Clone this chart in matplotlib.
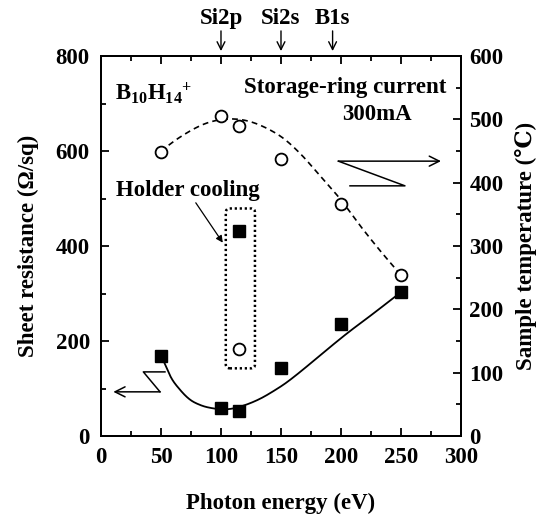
import numpy as np
import matplotlib
matplotlib.use("Agg")
import matplotlib.pyplot as plt
from matplotlib.patches import FancyBboxPatch
from matplotlib.ticker import MultipleLocator

plt.rcParams["font.family"] = ["Liberation Serif", "DejaVu Serif"]
plt.rcParams["font.weight"] = "bold"
plt.rcParams["axes.labelweight"] = "bold"
plt.rcParams["mathtext.fontset"] = "custom"
plt.rcParams["mathtext.rm"] = "Liberation Serif:bold"
plt.rcParams["mathtext.it"] = "Liberation Serif:bold"
plt.rcParams["mathtext.bf"] = "Liberation Serif:bold"

# measured points
energy = [50, 100, 115, 150, 200, 250]
sheet_res = [168, 58, 52, 144, 235, 303]
temperature = [449, 506, 490, 438, 367, 254]

# holder-cooling points (115 eV)
cooled_energy = [115]
cooled_res = [432]
cooled_temp = [137]

# guide curves
res_curve_x = [50, 53, 58, 66, 74, 83, 94, 101, 110, 121, 133, 144, 152, 166, 177, 205, 227, 250]
res_curve_y = [170, 153, 125, 97, 77, 65, 58, 56, 58, 66, 79, 95, 108, 135, 158, 216, 258, 303]
temp_curve_x = [50, 55, 71, 88, 102, 121, 138, 152, 166, 182, 199, 216, 232, 250]
temp_curve_y = [449, 457, 478, 494, 500, 498, 486, 470, 446, 412, 375, 332, 294, 254]

# absorption edges marked on top
edge_names = ["Si2p", "Si2s", "B1s"]
edge_energy = [100, 150, 193]

FS = 16.5


def hermite(xs, ys, n=400):
    # piecewise cubic through the read-off points
    x = np.asarray(xs, float)
    y = np.asarray(ys, float)
    d = np.diff(y) / np.diff(x)
    m = np.empty_like(y)
    m[0], m[-1] = d[0], d[-1]
    h = np.diff(x)
    m[1:-1] = (d[1:] * h[:-1] + d[:-1] * h[1:]) / (h[:-1] + h[1:])
    xx = np.linspace(x[0], x[-1], n)
    i = np.clip(np.searchsorted(x, xx) - 1, 0, len(x) - 2)
    t = (xx - x[i]) / h[i]
    h00 = 2 * t**3 - 3 * t**2 + 1
    h10 = t**3 - 2 * t**2 + t
    h01 = -2 * t**3 + 3 * t**2
    h11 = t**3 - t**2
    yy = h00 * y[i] + h10 * h[i] * m[i] + h01 * y[i + 1] + h11 * h[i] * m[i + 1]
    return xx, yy


fig = plt.figure(figsize=(5.47, 5.20), dpi=100)
ax = fig.add_axes([0.1846, 0.1615, 0.6582, 0.7308])
ax2 = ax.twinx()

xx, yy = hermite(res_curve_x, res_curve_y)
ax.plot(xx, yy, color="black", lw=1.3)
ax.plot(energy, sheet_res, ls="none", marker="s", ms=8.5, color="black")
ax.plot(cooled_energy, cooled_res, ls="none", marker="s", ms=8.5, color="black")

xx, yy = hermite(temp_curve_x, temp_curve_y)
ax2.plot(xx, yy, color="black", lw=1.2, dashes=(3.5, 2.5))
ax2.plot(energy, temperature, ls="none", marker="o", ms=8.5, mfc="white", mec="black", mew=1.3)
ax2.plot(cooled_energy, cooled_temp, ls="none", marker="o", ms=8.5, mfc="white", mec="black", mew=1.3)

ax.set_xlim(0, 300)
ax.set_ylim(0, 800)
ax2.set_ylim(0, 600)

ax.xaxis.set_major_locator(MultipleLocator(50))
ax.xaxis.set_minor_locator(MultipleLocator(25))
ax.yaxis.set_major_locator(MultipleLocator(200))
ax.yaxis.set_minor_locator(MultipleLocator(100))
ax2.yaxis.set_major_locator(MultipleLocator(100))
ax2.yaxis.set_minor_locator(MultipleLocator(50))

ax.tick_params(which="both", direction="in", top=True, right=False, width=1.3,
               labelsize=FS, pad=8)
ax.tick_params(which="major", length=6)
ax.tick_params(which="minor", length=3.5)
ax2.tick_params(which="both", direction="in", width=1.3, labelsize=FS, pad=6)
ax2.tick_params(which="major", length=6)
ax2.tick_params(which="minor", length=3.5)
for a in (ax, ax2):
    for s in a.spines.values():
        s.set_linewidth(1.4)

ax.set_xlabel("Photon energy (eV)", fontsize=FS, labelpad=18)
ax.set_ylabel("Sheet resistance (Ω/sq)", fontsize=FS, labelpad=12)
ax2.set_ylabel("Sample temperature (℃)", fontsize=FS, labelpad=8)

# text labels inside
ax.text(12, 722, r"$\mathregular{B_{10}H_{14}{}^{+}}$", fontsize=FS, va="center", ha="left")
ax.text(288, 734, "Storage-ring current", fontsize=FS, va="center", ha="right")
ax.text(259, 676, "300mA", fontsize=FS, va="center", ha="right")
ax.text(72, 516, "Holder cooling", fontsize=FS, va="center", ha="center")

# dotted box around the cooled points
box = FancyBboxPatch((104, 142.5), 24.3, 336.5,
                     boxstyle="round,pad=0,rounding_size=3.3", mutation_aspect=2.5,
                     fill=False, ec="black", lw=1.8, ls=(0, (0.9, 1.1)))
ax.add_patch(box)
ax.annotate("", xy=(101.5, 407), xytext=(79, 491),
            arrowprops=dict(arrowstyle="-|>", color="black", lw=0.9,
                            mutation_scale=10, shrinkA=0, shrinkB=0))

# zig-zag arrows pointing to the axes
ax.plot([53.3, 35.3, 49.2], [135, 135, 93], color="black", lw=1.1)
ax.annotate("", xy=(10.3, 93), xytext=(49.2, 93),
            arrowprops=dict(arrowstyle="->", color="black", lw=1.1,
                            mutation_scale=18, shrinkA=0, shrinkB=0))
ax2.plot([207.5, 253.3, 197.8], [395, 395, 434], color="black", lw=1.1)
ax2.annotate("", xy=(283.3, 434), xytext=(197.8, 434),
             arrowprops=dict(arrowstyle="->", color="black", lw=1.1,
                             mutation_scale=18, shrinkA=0, shrinkB=0))

# edge markers above the frame
tr = ax.get_xaxis_transform()
for name, e in zip(edge_names, edge_energy):
    ax.annotate("", xy=(e, 1.013), xytext=(e, 1.066), xycoords=tr, textcoords=tr,
                arrowprops=dict(arrowstyle="->", color="black", lw=1.0,
                                mutation_scale=14, shrinkA=0, shrinkB=0),
                annotation_clip=False)
    ax.text(e, 1.07, name, transform=tr, ha="center", va="bottom", fontsize=FS)

fig.savefig("out.png", dpi=100)
